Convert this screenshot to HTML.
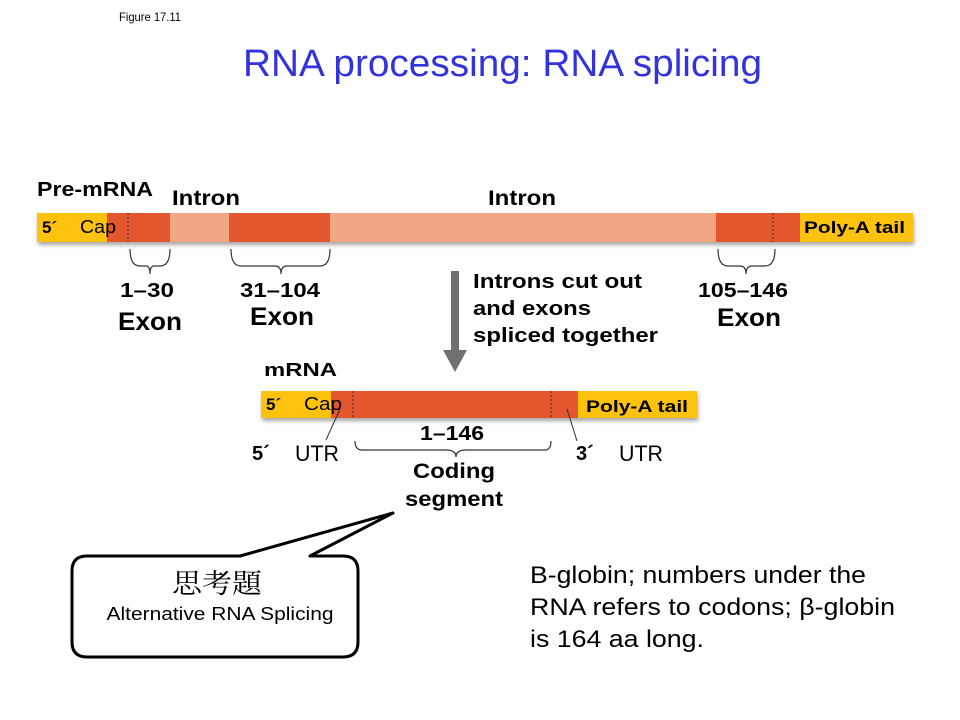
<!DOCTYPE html>
<html><head><meta charset="utf-8"><style>
html,body{margin:0;padding:0;background:#fff;}
svg{display:block;}
text{font-family:"Liberation Sans","Noto Sans CJK TC",sans-serif;}
.b{font-weight:bold;}
</style></head><body>
<svg width="960" height="720" viewBox="0 0 960 720" xmlns="http://www.w3.org/2000/svg">
<defs>
<filter id="sh" x="-5%" y="-50%" width="110%" height="200%"><feGaussianBlur in="SourceAlpha" stdDeviation="2"/><feOffset dx="1" dy="3"/><feComponentTransfer><feFuncA type="linear" slope="0.35"/></feComponentTransfer><feMerge><feMergeNode/><feMergeNode in="SourceGraphic"/></feMerge></filter>
</defs>
<text x="119" y="21" font-size="12" textLength="62" lengthAdjust="spacingAndGlyphs">Figure 17.11</text>
<text x="243" y="76" font-size="38" fill="#3333dd" textLength="519" lengthAdjust="spacingAndGlyphs">RNA processing: RNA splicing</text>

<!-- Pre-mRNA -->
<text x="37" y="196" font-size="20" class="b" textLength="116" lengthAdjust="spacingAndGlyphs">Pre-mRNA</text>
<text x="172" y="205" font-size="21" class="b" textLength="68" lengthAdjust="spacingAndGlyphs">Intron</text>
<text x="488" y="205" font-size="21" class="b" textLength="68" lengthAdjust="spacingAndGlyphs">Intron</text>
<g filter="url(#sh)">
<rect x="37" y="213" width="876" height="29" fill="#f3a683"/>
<rect x="37" y="213" width="70" height="29" fill="#fcc20f"/>
<rect x="107" y="213" width="63" height="29" fill="#e4572e"/>
<rect x="229" y="213" width="101" height="29" fill="#e4572e"/>
<rect x="716" y="213" width="84" height="29" fill="#e4572e"/>
<rect x="800" y="213" width="113" height="29" fill="#fcc20f"/>
</g>
<line x1="128" y1="213" x2="128" y2="242" stroke="#333" stroke-dasharray="2,2"/>
<line x1="773" y1="213" x2="773" y2="242" stroke="#333" stroke-dasharray="2,2"/>
<text x="42" y="233" font-size="17" class="b">5´</text>
<text x="80" y="233" font-size="18" textLength="36" lengthAdjust="spacingAndGlyphs">Cap</text>
<text x="804" y="233" font-size="17" class="b" textLength="101" lengthAdjust="spacingAndGlyphs">Poly-A tail</text>

<g fill="none" stroke="#333" stroke-width="1.2">
<path d="M130 249 Q130 266 140 266 L146 266 Q150 266 150 274 Q150 266 154 266 L160 266 Q170 266 170 249"/>
<path d="M231 249 Q231 266 241 266 L275 266 Q281 266 281 274 Q281 266 287 266 L320 266 Q330 266 330 249"/>
<path d="M718 249 Q718 266 728 266 L740 266 Q746 266 746 274 Q746 266 752 266 L765 266 Q775 266 775 249"/>
</g>
<text x="147" y="297" font-size="20" class="b" text-anchor="middle" textLength="54" lengthAdjust="spacingAndGlyphs">1–30</text>
<text x="150" y="330" font-size="25" class="b" text-anchor="middle" textLength="64" lengthAdjust="spacingAndGlyphs">Exon</text>
<text x="280" y="297" font-size="20" class="b" text-anchor="middle" textLength="80" lengthAdjust="spacingAndGlyphs">31–104</text>
<text x="282" y="325" font-size="25" class="b" text-anchor="middle" textLength="64" lengthAdjust="spacingAndGlyphs">Exon</text>
<text x="743" y="297" font-size="20" class="b" text-anchor="middle" textLength="90" lengthAdjust="spacingAndGlyphs">105–146</text>
<text x="749" y="326" font-size="25" class="b" text-anchor="middle" textLength="64" lengthAdjust="spacingAndGlyphs">Exon</text>

<!-- arrow -->
<rect x="451" y="271" width="8" height="80" fill="#707070"/>
<polygon points="443,350 467,350 455,372" fill="#707070"/>
<text x="473" y="288" font-size="20" class="b" textLength="169" lengthAdjust="spacingAndGlyphs">Introns cut out</text>
<text x="473" y="315" font-size="20" class="b" textLength="118" lengthAdjust="spacingAndGlyphs">and exons</text>
<text x="473" y="342" font-size="20" class="b" textLength="185" lengthAdjust="spacingAndGlyphs">spliced together</text>

<!-- mRNA -->
<text x="264" y="376" font-size="18" class="b" textLength="73" lengthAdjust="spacingAndGlyphs">mRNA</text>
<g filter="url(#sh)">
<rect x="261" y="391" width="436" height="27" fill="#fcc20f"/>
<rect x="331" y="391" width="247" height="27" fill="#e4572e"/>
</g>
<line x1="353" y1="391" x2="353" y2="418" stroke="#333" stroke-dasharray="2,2"/>
<line x1="551" y1="391" x2="551" y2="418" stroke="#333" stroke-dasharray="2,2"/>
<text x="266" y="410" font-size="17" class="b">5´</text>
<text x="304" y="410" font-size="18" textLength="38" lengthAdjust="spacingAndGlyphs">Cap</text>
<text x="586" y="412" font-size="17" class="b" textLength="102" lengthAdjust="spacingAndGlyphs">Poly-A tail</text>
<line x1="340" y1="409" x2="326" y2="440" stroke="#333" stroke-width="1"/>
<line x1="567" y1="409" x2="577" y2="441" stroke="#333" stroke-width="1"/>
<path d="M355 441 Q355 450 362 450 L446 450 Q456 450 456 457 Q456 450 466 450 L545 450 Q551 450 551 441" fill="none" stroke="#333" stroke-width="1.2"/>
<text x="452" y="440" font-size="20" class="b" text-anchor="middle" textLength="64" lengthAdjust="spacingAndGlyphs">1–146</text>
<text x="252" y="460" font-size="20" class="b">5´</text>
<text x="295" y="461" font-size="22" textLength="44" lengthAdjust="spacingAndGlyphs">UTR</text>
<text x="576" y="460" font-size="20" class="b">3´</text>
<text x="619" y="461" font-size="22" textLength="44" lengthAdjust="spacingAndGlyphs">UTR</text>
<text x="454" y="478" font-size="21" class="b" text-anchor="middle" textLength="82" lengthAdjust="spacingAndGlyphs">Coding</text>
<text x="454" y="506" font-size="21" class="b" text-anchor="middle" textLength="98" lengthAdjust="spacingAndGlyphs">segment</text>

<!-- callout -->
<path d="M87 556 L240 556 L393 513 L310 556 L343 556 Q358 556 358 571 L358 642 Q358 657 343 657 L87 657 Q72 657 72 642 L72 571 Q72 556 87 556 Z" fill="#fff" stroke="#000" stroke-width="3" stroke-linejoin="round"/>
<text x="217" y="593" font-size="27" text-anchor="middle" style="font-family:'Noto Serif CJK SC','Noto Sans CJK TC',serif" textLength="90" lengthAdjust="spacingAndGlyphs">思考題</text>
<text x="220" y="620" font-size="18" text-anchor="middle" textLength="227" lengthAdjust="spacingAndGlyphs">Alternative RNA Splicing</text>

<text x="530" y="583" font-size="24" textLength="336" lengthAdjust="spacingAndGlyphs">B-globin; numbers under the</text>
<text x="530" y="615" font-size="24" textLength="365" lengthAdjust="spacingAndGlyphs">RNA refers to codons; β-globin</text>
<text x="530" y="647" font-size="24" textLength="174" lengthAdjust="spacingAndGlyphs">is 164 aa long.</text>
</svg>
</body></html>
